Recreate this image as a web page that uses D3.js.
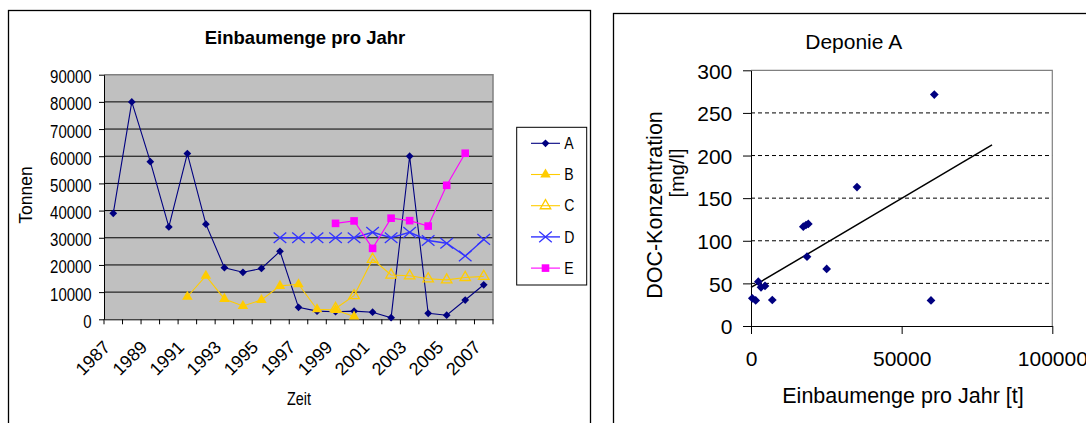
<!DOCTYPE html>
<html>
<head>
<meta charset="utf-8">
<script src="https://cdn.jsdelivr.net/npm/d3@7"></script>
<style>
  html, body { margin: 0; padding: 0; background: #fff; }
  svg { display: block; font-family: 'Liberation Sans', Arial, sans-serif; }
</style>
</head>
<body>
<script>
// ---- Data: yearly intake per site (tonnes) ----
const years = ["1987","1988","1989","1990","1991","1992","1993","1994","1995","1996",
               "1997","1998","1999","2000","2001","2002","2003","2004","2005","2006","2007"];
const yearLabels = ["1987","1989","1991","1993","1995","1997","1999","2001","2003","2005","2007"];
const tonnesTicks = [0,10000,20000,30000,40000,50000,60000,70000,80000,90000];
const seriesNames = ["A","B","C","D","E"];

const seriesA = [39000, 80000, 58000, 34000, 61000, 35000, 19000, 17300, 18700, 25000,
                 4400, 3000, 2800, 3000, 2600, 600, 60000, 2200, 1500, 7100, 12700];
const seriesB = [null, null, null, null, 8300, 16000, 7500, 4900, 7100, 12300,
                 12900, 3700, 3400, 1000, null, null, null, null, null, null, null];
const seriesC = [null, null, null, null, null, null, null, null, null, null,
                 null, null, 4000, 8700, 22100, 16300, 16000, 14900, 14500, 15400, 15800];
const seriesD = [null, null, null, null, null, null, null, null, null, 30000,
                 30000, 30000, 30000, 30000, 32000, 30000, 32000, 29000, 28000, 23300, 29400];
const seriesE = [null, null, null, null, null, null, null, null, null, null,
                 null, null, 35300, 36200, 26100, 37200, 36300, 34300, 49300, 61100, null];

// ---- Data: DOC concentration vs. yearly intake (site A) ----
const intakeT = [430, 1560, 2420, 3320, 4650, 7070, 17360, 18250, 19020, 18590,
                 25120, 35180, 59740, 60840];
const docMgL  = [32.5, 30, 52, 45.4, 47, 30.5, 116.5, 118.5, 119.7, 81.3,
                 66.9, 163, 30, 271.5];
const docTicks = [0, 50, 100, 150, 200, 250, 300];
const intakeTicks = [0, 50000, 100000];
const trendRange = [0, 80000];

// ---- Setup ----
const svg = d3.select("body").append("svg").attr("width", 1086).attr("height", 423);

// compress a text selection horizontally (keeps its anchor point)
function squeeze(sel, k) {
  sel.each(function () {
    const t = d3.select(this);
    const x0 = +t.attr("x") || 0;
    t.attr("x", x0 / k).attr("transform", `scale(${k},1)`);
  });
}

// Panel frames
svg.append("rect").attr("x", 8.5).attr("y", 10.5).attr("width", 582).attr("height", 500)
  .attr("fill", "#fff").attr("stroke", "#000").attr("stroke-width", 1.3);
svg.append("rect").attr("x", 613.5).attr("y", 13.5).attr("width", 600).attr("height", 500)
  .attr("fill", "#fff").attr("stroke", "#000").attr("stroke-width", 1.3);

// =================== Left chart: Einbaumenge pro Jahr ===================
const L = { left: 104, right: 493, top: 74.7, bottom: 319.3 };
const x = d3.scaleBand().domain(years).range([L.left, L.right]);
const y = d3.scaleLinear().domain([0, 90000]).range([L.bottom, L.top]);
const cx = d => x(d) + x.bandwidth() / 2;

const left = svg.append("g");
left.append("rect").attr("x", L.left).attr("y", L.top)
  .attr("width", L.right - L.left).attr("height", L.bottom - L.top).attr("fill", "#c0c0c0");

// horizontal gridlines
left.append("g").selectAll("line").data(tonnesTicks.filter(v => v > 0 && v < 90000)).join("line")
  .attr("x1", L.left).attr("x2", L.right).attr("y1", d => y(d)).attr("y2", d => y(d))
  .attr("stroke", "#000").attr("stroke-width", 1);
// plot frame (top / right)
left.append("path")
  .attr("d", `M${L.left},${y(90000)}H${L.right}V${L.bottom}`)
  .attr("fill", "none").attr("stroke", "#808080").attr("stroke-width", 1.5);

// y axis
const gy = left.append("g").attr("transform", `translate(${L.left},0)`)
  .call(d3.axisLeft(y).tickValues(tonnesTicks).tickFormat(d3.format("d")).tickSize(5).tickSizeOuter(0));
gy.select(".domain").attr("stroke", "#000");
gy.selectAll(".tick line").attr("stroke", "#000");
gy.selectAll("text").attr("font-size", 18.5).attr("fill", "#000").attr("font-family", null)
  .attr("x", -12.3).attr("dy", "0.43em");
squeeze(gy.selectAll("text"), 0.81);

// x axis (labels at every second year, ticks at category borders)
const gx = left.append("g").attr("transform", `translate(0,${L.bottom})`)
  .call(d3.axisBottom(x).tickValues(yearLabels).tickSize(0).tickSizeOuter(0));
gx.select(".domain").attr("stroke", "#000");
gx.selectAll("text").attr("font-size", 18).attr("fill", "#000").attr("font-family", null)
  .attr("x", 0).attr("y", 0).attr("dy", 0)
  .attr("text-anchor", "end").attr("transform", "translate(-2,29) rotate(-45)");
left.append("g").selectAll("line").data(years.map(x).concat([x.range()[1]])).join("line")
  .attr("x1", d => d).attr("x2", d => d).attr("y1", L.bottom).attr("y2", L.bottom + 5)
  .attr("stroke", "#000");

// axis titles
left.append("text").attr("x", 305).attr("y", 44).attr("text-anchor", "middle")
  .attr("font-size", 18.5).attr("font-weight", "bold").text("Einbaumenge pro Jahr");
const zeit = left.append("text").attr("x", 299).attr("y", 405).attr("text-anchor", "middle")
  .attr("font-size", 18).text("Zeit");
squeeze(zeit, 0.8);
left.append("text").attr("transform", "translate(32,195) rotate(-90)")
  .attr("text-anchor", "middle").attr("font-size", 17.5).text("Tonnen");

// marker shapes
const diamond = d3.symbol().type(d3.symbolSquare).size(30);
const triangle = d3.symbol().type(d3.symbolTriangle).size(48);
const square = d3.symbol().type(d3.symbolSquare).size(58);
const xMark = "M-6.3,-5.3L6.3,5.3M-6.3,5.3L6.3,-5.3";

const seriesDefs = [
  { name: "A", values: seriesA, color: "#000080", width: 1.1,
    mark: g => g.append("path").attr("d", diamond()).attr("transform", "rotate(45)").attr("fill", "#000080") },
  { name: "B", values: seriesB, color: "#ffcc00", width: 1.1,
    mark: g => g.append("path").attr("d", triangle()).attr("fill", "#ffcc00") },
  { name: "C", values: seriesC, color: "#ffcc00", width: 1.1,
    mark: g => g.append("path").attr("d", triangle()).attr("fill", "none").attr("stroke", "#ffcc00").attr("stroke-width", 1.3) },
  { name: "D", values: seriesD, color: "#3333ff", width: 1.4,
    mark: g => g.append("path").attr("d", xMark).attr("fill", "none").attr("stroke", "#3333ff").attr("stroke-width", 1.3) },
  { name: "E", values: seriesE, color: "#ff00ff", width: 1.1,
    mark: g => g.append("path").attr("d", square()).attr("fill", "#ff00ff") }
];

const line = d3.line().defined(d => d.v != null).x(d => cx(d.year)).y(d => y(d.v));

seriesDefs.forEach(s => {
  const pts = years.map((yr, i) => ({ year: yr, v: s.values[i] }));
  const g = left.append("g");
  g.append("path").datum(pts).attr("d", line).attr("fill", "none")
    .attr("stroke", s.color).attr("stroke-width", s.width);
  g.selectAll("g.m").data(pts.filter(p => p.v != null)).join("g").attr("class", "m")
    .attr("transform", p => `translate(${cx(p.year)},${y(p.v)})`)
    .each(function () { s.mark(d3.select(this)); });
});

// legend
const lg = left.append("g");
lg.append("rect").attr("x", 516.7).attr("y", 127.3).attr("width", 70).attr("height", 157.7)
  .attr("fill", "#fff").attr("stroke", "#000").attr("stroke-width", 1);
seriesDefs.forEach((s, i) => {
  const yy = 143.3 + i * 31.2;
  lg.append("line").attr("x1", 531).attr("x2", 560).attr("y1", yy).attr("y2", yy)
    .attr("stroke", s.color).attr("stroke-width", s.width);
  s.mark(lg.append("g").attr("transform", `translate(545.5,${yy})`));
  const t = lg.append("text").attr("x", 564.3).attr("y", yy + 5.8).attr("font-size", 16).text(s.name);
  squeeze(t, 0.88);
});

// =================== Right chart: Deponie A ===================
const R = { left: 751, right: 1052.3, top: 70.3, bottom: 326 };
const xs = d3.scaleLinear().domain([0, 100000]).range([R.left, R.right]);
const ys = d3.scaleLinear().domain([0, 300]).range([R.bottom, R.top]);
const right = svg.append("g");

right.append("g").selectAll("line").data(docTicks.filter(v => v > 0 && v < 300)).join("line")
  .attr("x1", R.left).attr("x2", R.right).attr("y1", d => ys(d)).attr("y2", d => ys(d))
  .attr("stroke", "#000").attr("stroke-width", 1).attr("stroke-dasharray", "4,3");
right.append("path")
  .attr("d", `M${R.left},${ys(300)}H${R.right}V${R.bottom}`)
  .attr("fill", "none").attr("stroke", "#808080").attr("stroke-width", 1.2);

const ry = right.append("g").attr("transform", `translate(${R.left},0)`)
  .call(d3.axisLeft(ys).tickValues(docTicks).tickSize(8).tickSizeOuter(0));
ry.select(".domain").attr("stroke", "#000");
ry.selectAll(".tick line").attr("stroke", "#000");
ry.selectAll("text").attr("font-size", 21).attr("fill", "#000").attr("font-family", null)
  .attr("x", -18.7).attr("dy", "0.37em");

const rx = right.append("g").attr("transform", `translate(0,${R.bottom})`)
  .call(d3.axisBottom(xs).tickValues(intakeTicks).tickFormat(d3.format("d")).tickSize(8).tickSizeOuter(0));
rx.select(".domain").attr("stroke", "#000");
rx.selectAll(".tick line").attr("stroke", "#000");
rx.selectAll("text").attr("font-size", 21).attr("fill", "#000").attr("font-family", null)
  .attr("y", 39.7).attr("dy", 0);

right.append("text").attr("x", 853.7).attr("y", 49.3).attr("text-anchor", "middle")
  .attr("font-size", 21).text("Deponie A");
right.append("text").attr("x", 903).attr("y", 403.3).attr("text-anchor", "middle")
  .attr("font-size", 21.5).text("Einbaumenge pro Jahr [t]");
right.append("text").attr("transform", "translate(662,205) rotate(-90)")
  .attr("text-anchor", "middle").attr("font-size", 21.5).text("DOC-Konzentration");
right.append("text").attr("transform", "translate(684,173) rotate(-90)")
  .attr("text-anchor", "middle").attr("font-size", 20).text("[mg/l]");

// least-squares trend line
const mx = d3.mean(intakeT), my = d3.mean(docMgL);
const sxy = d3.sum(intakeT, (v, i) => (v - mx) * (docMgL[i] - my));
const sxx = d3.sum(intakeT, v => (v - mx) * (v - mx));
const slope = sxy / sxx, icpt = my - slope * mx;
right.append("line")
  .attr("x1", xs(trendRange[0])).attr("y1", ys(icpt + slope * trendRange[0]))
  .attr("x2", xs(trendRange[1])).attr("y2", ys(icpt + slope * trendRange[1]))
  .attr("stroke", "#000").attr("stroke-width", 1.5);

const bigDiamond = d3.symbol().type(d3.symbolSquare).size(38);
right.append("g").selectAll("path").data(intakeT.map((v, i) => [v, docMgL[i]])).join("path")
  .attr("d", bigDiamond())
  .attr("transform", d => `translate(${xs(d[0])},${ys(d[1])}) rotate(45)`)
  .attr("fill", "#000080");
</script>
</body>
</html>
